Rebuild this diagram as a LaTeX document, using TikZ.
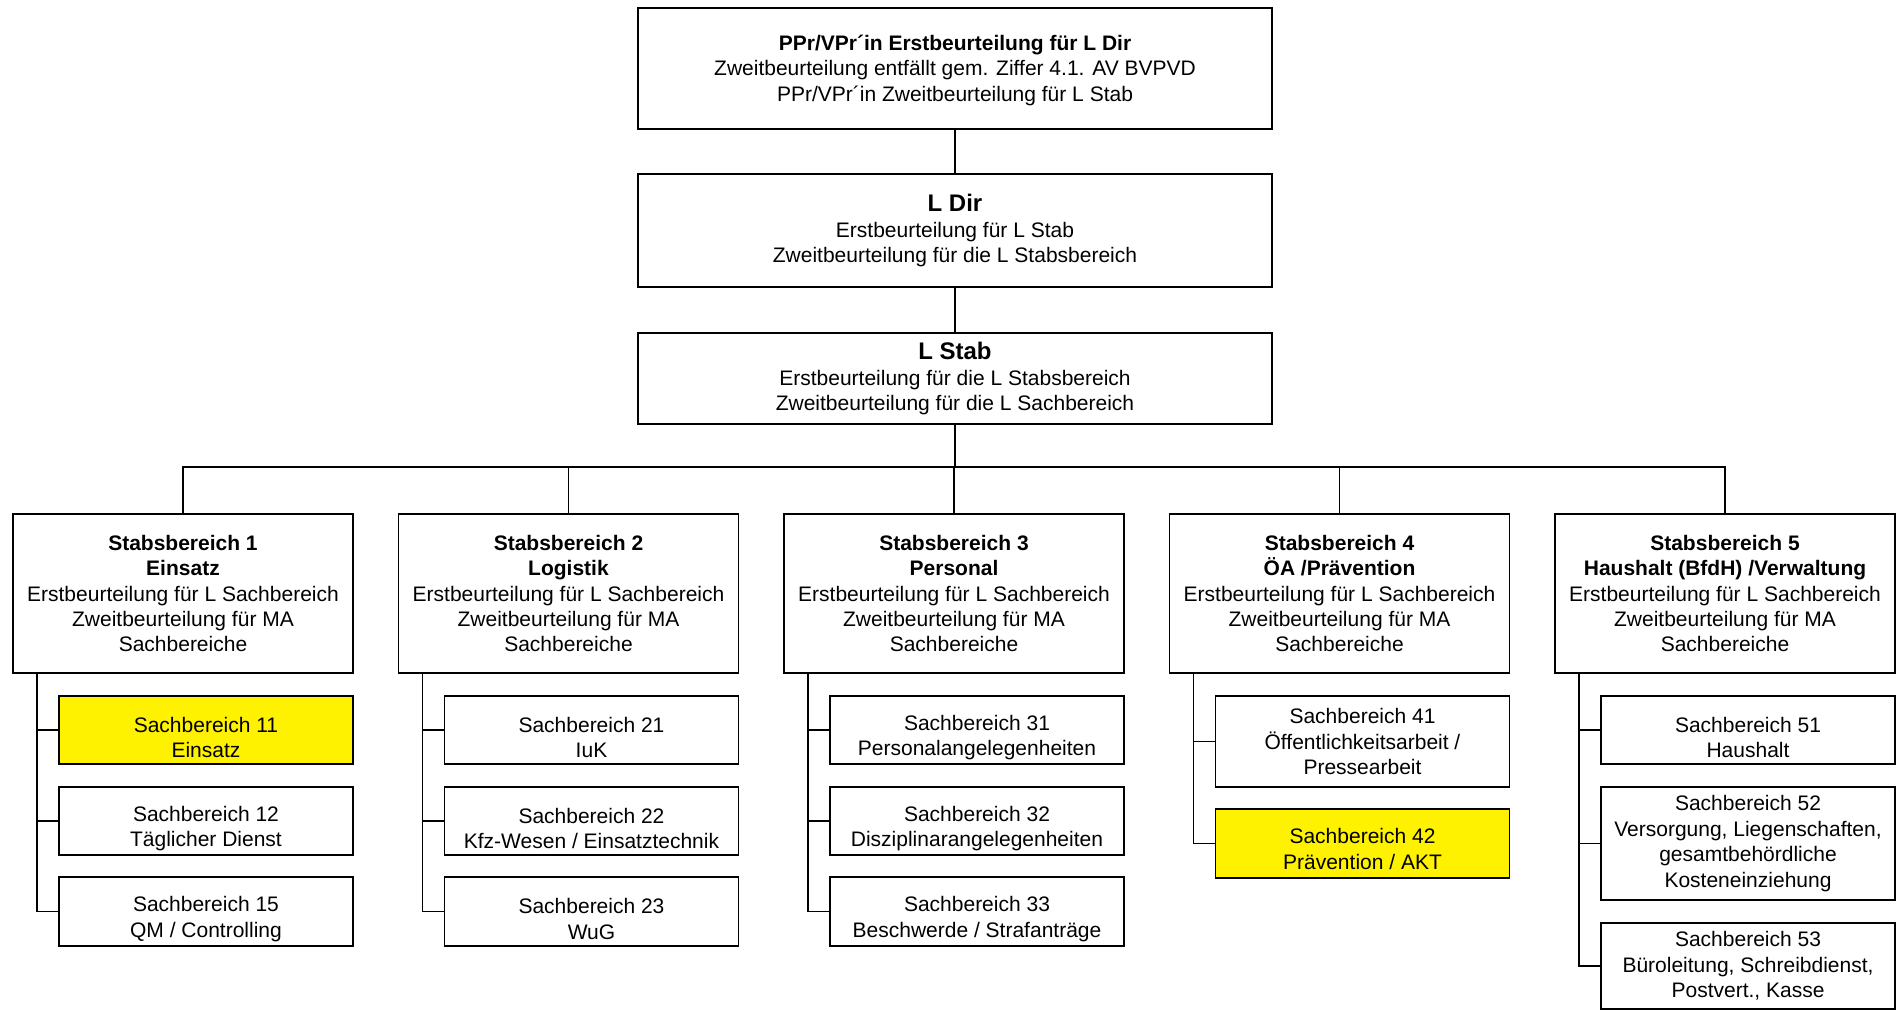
\documentclass[tikz,border=0pt]{standalone}
\usepackage{fontspec}
\setmainfont{Liberation Sans}
\newcommand\bigttl[1]{{\fontsize{24}{28}\selectfont\bfseries #1}}
\newcommand\dnA{\rule{0pt}{30pt}}
\newcommand\dnB{\rule{0pt}{26pt}}
\begin{document}
\begin{tikzpicture}[x=1pt,y=-1pt,
  box/.style={draw=black, line width=1.5pt, inner sep=0pt, outer sep=0pt, align=center,
              font=\fontsize{21}{25.4}\selectfont, fill=white},
  topbox/.style={box, minimum width=634pt},
  sbbox/.style={box, minimum width=340pt, minimum height=159pt},
  kid/.style={box, minimum width=294pt},
  hl/.style={fill=yellow},
  conn/.style={line width=1.3pt, draw=black}]
\useasboundingbox (0,0) rectangle (1896,1011);

% top level
\node[topbox, minimum height=121pt] (top) at (955,68.5)
  {\rule{0pt}{19pt}\textbf{PPr/VPr´in Erstbeurteilung für L Dir}\\Zweitbeurteilung entfällt gem. Ziffer 4.1. AV BVPVD\\PPr/VPr´in Zweitbeurteilung für L Stab};
\node[topbox, minimum height=113pt] (ldir) at (955,230.5)
  {\bigttl{L Dir}\\Erstbeurteilung für L Stab\\Zweitbeurteilung für die L Stabsbereich};
\node[topbox, minimum height=91pt] (lstab) at (955,378.5)
  {\bigttl{L Stab}\\Erstbeurteilung für die L Stabsbereich\\Zweitbeurteilung für die L Sachbereich};

% Stabsbereiche
\node[sbbox] (sb1) at (183,593.5)
  {\textbf{Stabsbereich 1}\\\textbf{Einsatz}\\Erstbeurteilung für L Sachbereich\\Zweitbeurteilung für MA\\Sachbereiche};
\node[sbbox] (sb2) at (568.5,593.5)
  {\textbf{Stabsbereich 2}\\\textbf{Logistik}\\Erstbeurteilung für L Sachbereich\\Zweitbeurteilung für MA\\Sachbereiche};
\node[sbbox] (sb3) at (954,593.5)
  {\textbf{Stabsbereich 3}\\\textbf{Personal}\\Erstbeurteilung für L Sachbereich\\Zweitbeurteilung für MA\\Sachbereiche};
\node[sbbox] (sb4) at (1339.5,593.5)
  {\textbf{Stabsbereich 4}\\\textbf{ÖA /Prävention}\\Erstbeurteilung für L Sachbereich\\Zweitbeurteilung für MA\\Sachbereiche};
\node[sbbox] (sb5) at (1725,593.5)
  {\textbf{Stabsbereich 5}\\\textbf{Haushalt (BfdH) /Verwaltung}\\Erstbeurteilung für L Sachbereich\\Zweitbeurteilung für MA\\Sachbereiche};

% Sachbereiche column 1
\node[kid, hl, minimum height=68pt] (c11) at (206,730) {\dnA Sachbereich 11\\Einsatz};
\node[kid, minimum height=68pt] (c12) at (206,821) {\dnA Sachbereich 12\\Täglicher Dienst};
\node[kid, minimum height=69pt] (c15) at (206,911.5) {\dnA Sachbereich 15\\QM / Controlling};
% column 2
\node[kid, minimum height=68pt] (c21) at (591.5,730) {\dnA Sachbereich 21\\IuK};
\node[kid, minimum height=68pt] (c22) at (591.5,821) {\dnA Sachbereich 22\\Kfz-Wesen / Einsatztechnik};
\node[kid, minimum height=69pt] (c23) at (591.5,911.5) {\dnA Sachbereich 23\\WuG};
% column 3
\node[kid, minimum height=68pt] (c31) at (977,730) {\dnA Sachbereich 31\\Personalangelegenheiten};
\node[kid, minimum height=68pt] (c32) at (977,821) {\dnA Sachbereich 32\\Disziplinarangelegenheiten};
\node[kid, minimum height=69pt] (c33) at (977,911.5) {\dnA Sachbereich 33\\Beschwerde / Strafanträge};
% column 4
\node[kid, minimum height=91pt] (c41) at (1362.5,741.5) {Sachbereich 41\\Öffentlichkeitsarbeit /\\Pressearbeit};
\node[kid, hl, minimum height=69pt] (c42) at (1362.5,843.5) {\dnB Sachbereich 42\\Prävention / AKT};
% column 5
\node[kid, minimum height=68pt] (c51) at (1748,730) {\dnA Sachbereich 51\\Haushalt};
\node[kid, minimum height=113pt] (c52) at (1748,843.5) {Sachbereich 52\\Versorgung, Liegenschaften,\\gesamtbehördliche\\Kosteneinziehung};
\node[kid, minimum height=86pt] (c53) at (1748,966) {Sachbereich 53\\Büroleitung, Schreibdienst,\\Postvert., Kasse};

% connectors top
\coordinate (bus) at (955,467);
\draw[conn] (top.south) -- (ldir.north);
\draw[conn] (ldir.south) -- (lstab.north);
\draw[conn] (lstab.south) -- (bus);
\draw[conn] (sb1.north) -- (sb1.north |- bus) -- (sb5.north |- bus) -- (sb5.north);
\draw[conn] (sb2.north) -- (sb2.north |- bus);
\draw[conn] (sb3.north) -- (sb3.north |- bus);
\draw[conn] (sb4.north) -- (sb4.north |- bus);

% spines
\foreach \p/\k in {sb1/c11,sb1/c12,sb1/c15,sb2/c21,sb2/c22,sb2/c23,sb3/c31,sb3/c32,sb3/c33,sb4/c41,sb4/c42,sb5/c51,sb5/c52,sb5/c53}
  \draw[conn] ([xshift=24pt]\p.south west) |- (\k.west);
\end{tikzpicture}
\end{document}
